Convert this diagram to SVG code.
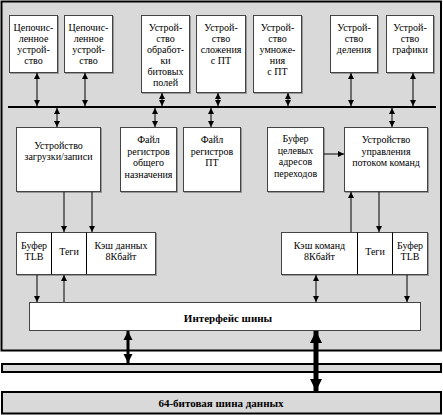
<svg xmlns="http://www.w3.org/2000/svg" width="443" height="415" viewBox="0 0 443 415">
<defs>
<marker id="a" viewBox="0 0 8 8" refX="8" refY="4" markerWidth="6" markerHeight="6" markerUnits="userSpaceOnUse" orient="auto-start-reverse"><path d="M0,0 L8,4 L0,8 z" fill="#000"/></marker>
<marker id="b" viewBox="0 0 10 10" refX="10" refY="5" markerWidth="9" markerHeight="12" markerUnits="userSpaceOnUse" orient="auto-start-reverse"><path d="M0,0 L10,5 L0,10 z" fill="#000"/></marker>
<marker id="c" viewBox="0 0 10 10" refX="10" refY="5" markerWidth="12" markerHeight="16" markerUnits="userSpaceOnUse" orient="auto-start-reverse"><path d="M0,0 L10,5 L0,10 z" fill="#000"/></marker>
</defs>
<style>
.box{fill:#fff;stroke:#444;stroke-width:1}
.sh{fill:#999}
.bar{fill:#d9d9d9;stroke:#000;stroke-width:2}
text{font-size:10px;fill:#000;text-anchor:middle}
.bold{font-weight:bold;font-size:11px}
.ln{stroke:#000;stroke-width:1;fill:none}
.dd{marker-start:url(#a);marker-end:url(#a)}
.d{marker-end:url(#a)}
</style>
<g font-family="Liberation Serif, Times New Roman, DejaVu Serif, serif">
<rect class="bar" x="1.5" y="1.5" width="439.5" height="349"/>
<rect class="bar" x="2" y="364" width="439" height="8"/>
<rect class="bar" x="2" y="392" width="439" height="21.5"/>
<text class="bold" x="221" y="407">64-битовая шина данных</text>

<g id="n1"><rect class="sh" x="10" y="16" width="49" height="58"/><rect class="box" x="9.5" y="15.5" width="48" height="57"/><text x="33.5" y="31">Цепочис-</text><text x="33.5" y="42">ленное</text><text x="33.5" y="53">устрой-</text><text x="33.5" y="64">ство</text></g>
<g id="n2"><rect class="sh" x="65" y="16" width="49" height="58"/><rect class="box" x="64.5" y="15.5" width="48" height="57"/><text x="88.5" y="31">Цепочис-</text><text x="88.5" y="42">ленное</text><text x="88.5" y="53">устрой-</text><text x="88.5" y="64">ство</text></g>
<g id="n3"><rect class="sh" x="142" y="16" width="49" height="78"/><rect class="box" x="141.5" y="15.5" width="48" height="77"/><text x="165.5" y="31">Устрой-</text><text x="165.5" y="42">ство</text><text x="165.5" y="53">обработ-</text><text x="165.5" y="64">ки</text><text x="165.5" y="75">битовых</text><text x="165.5" y="86">полей</text></g>
<g id="n4"><rect class="sh" x="197" y="16" width="50" height="78"/><rect class="box" x="196.5" y="15.5" width="49" height="77"/><text x="221" y="31">Устрой-</text><text x="221" y="42">ство</text><text x="221" y="53">сложения</text><text x="221" y="64">с ПТ</text></g>
<g id="n5"><rect class="sh" x="254" y="16" width="49" height="78"/><rect class="box" x="253.5" y="15.5" width="48" height="77"/><text x="277.5" y="31">Устрой-</text><text x="277.5" y="42">ство</text><text x="277.5" y="53">умноже-</text><text x="277.5" y="64">ния</text><text x="277.5" y="75">с ПТ</text></g>
<g id="n6"><rect class="sh" x="331" y="16" width="48" height="58"/><rect class="box" x="330.5" y="15.5" width="47" height="57"/><text x="354" y="31">Устрой-</text><text x="354" y="42">ство</text><text x="354" y="53">деления</text></g>
<g id="n7"><rect class="sh" x="387" y="16" width="48" height="58"/><rect class="box" x="386.5" y="15.5" width="47" height="57"/><text x="410" y="31">Устрой-</text><text x="410" y="42">ство</text><text x="410" y="53">графики</text></g>

<g id="n8"><rect class="sh" x="17" y="128" width="85" height="65"/><rect class="box" x="16.5" y="127.5" width="84" height="64"/><text x="58.5" y="149">Устройство</text><text x="58.5" y="160">загрузки/записи</text></g>
<g id="n9"><rect class="sh" x="121" y="128" width="57" height="65"/><rect class="box" x="120.5" y="127.5" width="56" height="64"/><text x="148.5" y="143">Файл</text><text x="148.5" y="154.5">регистров</text><text x="148.5" y="166">общего</text><text x="148.5" y="177.5">назначения</text></g>
<g id="n10"><rect class="sh" x="184" y="128" width="58" height="65"/><rect class="box" x="183.5" y="127.5" width="57" height="64"/><text x="212" y="143">Файл</text><text x="212" y="154.5">регистров</text><text x="212" y="166">ПТ</text></g>
<g id="n11"><rect class="sh" x="268" y="128" width="57" height="65"/><rect class="box" x="267.5" y="127.5" width="56" height="64"/><text x="295.5" y="142">Буфер</text><text x="295.5" y="153.5">целевых</text><text x="295.5" y="165">адресов</text><text x="295.5" y="176.5">переходов</text></g>
<g id="n12"><rect class="sh" x="345" y="128" width="84" height="65"/><rect class="box" x="344.5" y="127.5" width="83" height="64"/><text x="386" y="143">Устройство</text><text x="386" y="154.5">управления</text><text x="386" y="166">потоком команд</text></g>

<g id="n13"><rect class="sh" x="17" y="233" width="140" height="43"/><rect class="box" x="16.5" y="232.5" width="139" height="42"/><line class="ln" x1="51.5" y1="232.5" x2="51.5" y2="274.5"/><line class="ln" x1="86.5" y1="232.5" x2="86.5" y2="274.5"/><text x="34" y="249">Буфер</text><text x="34" y="259.5">TLB</text><text x="69" y="255">Теги</text><text x="121" y="249">Кэш данных</text><text x="121" y="259.5">8Кбайт</text></g>
<g id="n14"><rect class="sh" x="282" y="233" width="147" height="43"/><rect class="box" x="281.5" y="232.5" width="146" height="42"/><line class="ln" x1="357.5" y1="232.5" x2="357.5" y2="274.5" stroke="#777"/><line class="ln" x1="392.5" y1="232.5" x2="392.5" y2="274.5"/><text x="319.5" y="249">Кэш команд</text><text x="319.5" y="259.5">8Кбайт</text><text x="375" y="255">Теги</text><text x="410" y="249">Буфер</text><text x="410" y="259.5">TLB</text></g>

<g id="n15"><rect class="box" x="29.5" y="302.5" width="391" height="28" stroke="#777"/><text class="bold" x="228" y="322">Интерфейс шины</text></g>
</g>
<g id="connectors">
<line x1="8" y1="107" x2="436" y2="107" stroke="#000" stroke-width="2"/>
<line class="ln dd" x1="37" y1="73" x2="37" y2="106"/>
<line class="ln dd" x1="85" y1="73" x2="85" y2="106"/>
<line class="ln dd" x1="162" y1="93" x2="162" y2="106"/>
<line class="ln dd" x1="218" y1="93" x2="218" y2="106"/>
<line class="ln dd" x1="288" y1="93" x2="288" y2="106"/>
<line class="ln dd" x1="351" y1="73" x2="351" y2="106" stroke="#555"/>
<line class="ln dd" x1="413" y1="73" x2="413" y2="106"/>
<line class="ln dd" x1="57" y1="108" x2="57" y2="127"/>
<line class="ln dd" x1="155" y1="108" x2="155" y2="127"/>
<line class="ln dd" x1="211" y1="108" x2="211" y2="127"/>
<line class="ln dd" x1="392" y1="108" x2="392" y2="127"/>
<line class="ln d" x1="324" y1="154" x2="344" y2="154"/>
<line class="ln d" x1="64" y1="192" x2="64" y2="232"/>
<line class="ln d" x1="92" y1="192" x2="92" y2="232"/>
<line class="ln d" x1="351" y1="232" x2="351" y2="192" stroke="#555"/>
<line class="ln d" x1="379" y1="192" x2="379" y2="232"/>
<line class="ln d" x1="37" y1="275" x2="37" y2="302"/>
<line class="ln d" x1="64" y1="302" x2="64" y2="275"/>
<line class="ln dd" x1="316" y1="275" x2="316" y2="302"/>
<line class="ln d" x1="407" y1="275" x2="407" y2="302"/>
<line x1="128" y1="331" x2="128" y2="363" stroke="#000" stroke-width="3" marker-start="url(#b)" marker-end="url(#b)"/>
<line x1="316" y1="331" x2="316" y2="391" stroke="#000" stroke-width="5" marker-start="url(#c)" marker-end="url(#c)"/>
</g>
</svg>
